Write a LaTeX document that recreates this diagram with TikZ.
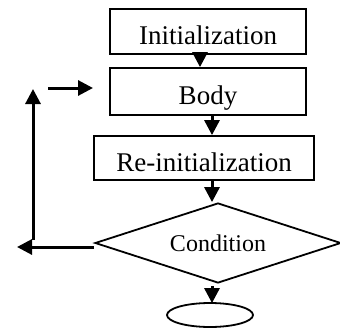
\documentclass[tikz,border=0pt]{standalone}
\usepackage{fontspec}
\setmainfont{Liberation Serif}
\usetikzlibrary{arrows.meta}
\usetikzlibrary{positioning}
\usetikzlibrary{shapes.geometric}

\begin{document}
\begin{tikzpicture}
    [x=1pt,y=1pt,
    stepbox/.style={rectangle,draw=black,line width=1.8pt,
      inner sep=0pt,text height=26pt,text depth=0pt,
      font=\fontsize{27}{32}\selectfont},
    decision/.style={diamond,aspect=3.075,draw=black,line width=1.8pt,
      inner sep=0pt,font=\fontsize{24}{29}\selectfont},
    terminal/.style={ellipse,draw=black,line width=1.8pt,inner sep=0pt},
    flow/.style={line width=3pt,-{Triangle[length=15pt,width=15pt]}}]

    \useasboundingbox (0,0) rectangle (340,-327);

    \node[stepbox,minimum width=196pt,minimum height=45pt] (init)   at (208,-31.5) {Initialization};

    \node[stepbox,minimum width=196pt,minimum height=47pt] (body)   at (208,-91.5) {Body};

    \node[stepbox,minimum width=220pt,minimum height=44pt] (reinit) at (204,-158)  {Re-initialization};

    \node[decision,minimum width=246pt,minimum height=80pt] (cond)  at (218,-243)  {Condition};

    \node[terminal,minimum width=86pt,minimum height=24pt] (stop)   at (210,-315)  {};

    \coordinate (exit)     at (17,-247);
    \coordinate (loop bot) at (33,-240);
    \coordinate (loop top) at (33,-89);
    \coordinate (re start) at (48,-88);
    \coordinate (re end)   at (93,-88);

    % main flow
    \draw[flow] ([xshift=-8pt]init.south) -- ([xshift=-8pt]init.south |- body.north);
    \draw[flow] ([xshift=4pt]body.south) -- ([xshift=4pt]body.south |- reinit.north);
    \draw[flow] ([xshift=8pt]reinit.south) -- ([xshift=8pt]reinit.south |- cond.north);
    \draw[flow] ([xshift=-6pt,yshift=-2pt]cond.south) -- ([xshift=-6pt,yshift=-1pt]cond.south |- stop.north);

    % loop back
    \draw[flow] ([yshift=-4pt]cond.west) -- (exit);
    \draw[flow] (loop bot) -- (loop top);
    \draw[flow] (re start) -- (re end);

  \end{tikzpicture}
\end{document}
